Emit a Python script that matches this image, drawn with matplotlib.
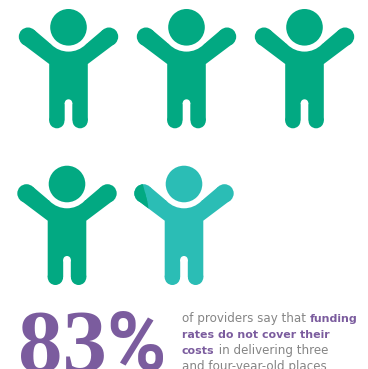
import matplotlib
matplotlib.use("Agg")
import matplotlib.pyplot as plt
from matplotlib.patches import Circle, Polygon, Rectangle

# Share of each figure painted in the main colour (83% of 5 figures)
shares = [1, 1, 1, 1, 0.15]
head_x = [68.5, 186.5, 304.5, 67, 184]
head_y = [27.3, 27.3, 27.3, 184, 184]

big_digits = "83"
big_sign = "%"
caption = [
    [("of providers say that ", False), ("funding", True)],
    [("rates do not cover their", True)],
    [("costs", True), (" in delivering three", False)],
    [("and four-year-old places.", False)],
]
caption_y = [322, 338, 354, 370]

# outline of arms, trunk and legs around the head centre
BODY = [(-34.2, 2.7), (-18.5, 16), (18.5, 16), (34.2, 2.7), (46.8, 16), (19.3, 36.7),
        (19.3, 93.3), (-19.3, 93.3), (-19.3, 36.7), (-46.8, 16)]

GREEN = "#02A982"
TEAL = "#2BBDB5"
PURPLE = "#7B5C9E"
GREY = "#858585"
DPI = 100
SIZE_REG = 8.6
SIZE_BOLD = 7.9


def draw_shape(ax, cx, cy, color, clip=None):
    """Body outline with round hands and feet; head and gaps are added afterwards."""
    arts = [Polygon([(cx + a, cy + b) for a, b in BODY], fc=color, ec="none")]
    for s in (-1, 1):
        arts.append(Circle((cx + s * 40.5, cy + 9.4), 9.2, fc=color, ec="none"))
        arts.append(Circle((cx + s * 11.6, cy + 93.3), 7.7, fc=color, ec="none"))
    for a in arts:
        a.set_zorder(2)
        a.set_snap(False)
        ax.add_patch(a)
        if clip is not None:
            a.set_clip_path(clip)


def person(ax, cx, cy, share):
    left = cx - 49
    width = 98
    if share >= 1:
        draw_shape(ax, cx, cy, GREEN)
        head_col = GREEN
    else:
        draw_shape(ax, cx, cy, TEAL)
        # slanted edge where the main colour stops
        edge = left + share * width
        clip = Polygon([(left - 2, cy - 12), (edge - 10, cy - 12), (edge - 2, cy + 19),
                        (edge - 1, cy + 26), (left - 2, cy + 26)],
                       transform=ax.transData, fc="none", ec="none")
        ax.add_patch(clip)
        draw_shape(ax, cx, cy, GREEN, clip=clip)
        head_col = TEAL
    ax.add_patch(Circle((cx, cy), 24.3, fc="white", ec="none", zorder=3))
    ax.add_patch(Circle((cx, cy), 18.3, fc=head_col, ec="none", zorder=4))
    # gap between the legs
    ax.add_patch(Circle((cx, cy + 75.8), 3.8, fc="white", ec="none", zorder=3))
    gap = Rectangle((cx - 3.8, cy + 75.8), 7.6, 30, fc="white", ec="none", zorder=3)
    gap.set_snap(False)
    ax.add_patch(gap)


fig = plt.figure(figsize=(3.68, 3.69), dpi=DPI)
ax = fig.add_axes([0, 0, 1, 1])
ax.set_xlim(0, 368)
ax.set_ylim(369, 0)
ax.axis("off")

for x, y, s in zip(head_x, head_y, shares):
    person(ax, x, y, s)

ax.text(18, 370.5, big_digits, family="Liberation Serif", weight="bold", fontsize=64,
        color=PURPLE, va="baseline", ha="left")
ax.text(106, 370, big_sign, family="Roboto", weight="bold", fontsize=58,
        color=PURPLE, va="baseline", ha="left")

# Caption lines are built run by run since bold and regular parts alternate
fig.canvas.draw()
renderer = fig.canvas.get_renderer()
for line, y in zip(caption, caption_y):
    x = 182
    for txt, bold in line:
        t = ax.text(x, y, txt.replace(" ", "\u00a0"), family="DejaVu Sans",
                    fontsize=SIZE_BOLD if bold else SIZE_REG,
                    weight="bold" if bold else "normal",
                    color=PURPLE if bold else GREY, va="baseline", ha="left")
        x += t.get_window_extent(renderer).width

fig.savefig("out.png", dpi=DPI)
